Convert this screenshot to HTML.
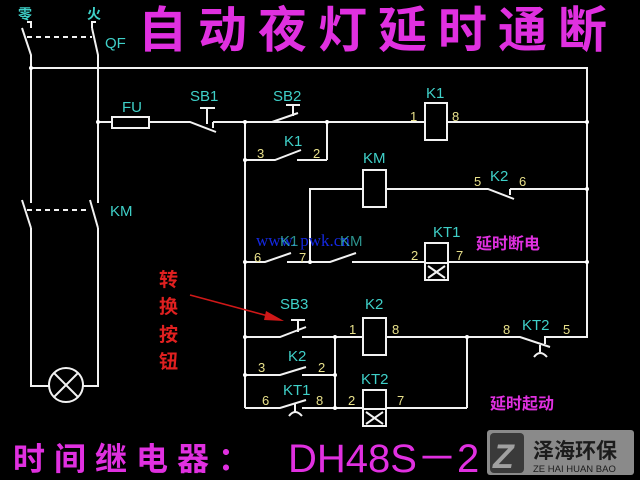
<!DOCTYPE html>
<html><head><meta charset="utf-8"><style>
html,body{margin:0;padding:0;background:#000;}
svg{display:block;}
.w{stroke:#f2f2f2;stroke-width:2;fill:none;}
.t{fill:#3fd0c8;font-family:"Liberation Sans",sans-serif;font-size:15px;}
.y{fill:#e8e08a;font-family:"Liberation Sans",sans-serif;font-size:13px;}
.m{fill:#e030e0;font-family:"Liberation Sans","Noto Sans CJK SC",sans-serif;font-weight:bold;}
</style></head><body>
<svg width="640" height="480" viewBox="0 0 640 480" xmlns="http://www.w3.org/2000/svg">
<rect width="640" height="480" fill="#000"/>
<text x="138" y="47" class="m" font-size="49" letter-spacing="11">自动夜灯延时通断</text>
<text x="18" y="19" fill="#3fd0c8" font-family="Noto Sans CJK SC,sans-serif" font-size="14" font-weight="bold">零</text>
<text x="87" y="19" fill="#3fd0c8" font-family="Noto Sans CJK SC,sans-serif" font-size="14" font-weight="bold">火</text>
<text x="105" y="48" class="t">QF</text>
<g class="w">
<path d="M27 22 H31 V28 M22 28 L31 55 V203 M31 228 V386 H49"/>
<path d="M96 22 H92 V28 M92 28 L98 55 V203 M98 228 V386 H83"/>
<path d="M27 37 H92" stroke-dasharray="5,4"/>
<path d="M31 68 H587 V337 H545 V344"/>
<path d="M22 200 L31 228" />
<path d="M90 200 L98 228" />
<path d="M27 210 H90" stroke-dasharray="5,4"/>
<circle cx="66" cy="385" r="17"/>
<path d="M54 373 L78 397 M78 373 L54 397"/>
<path d="M98 122 H112 M149 122 H190 L216 132 M213 122 V128 M213 122 H327 V160"/>
<rect x="112" y="117" width="37" height="11"/>
<path d="M200 108 H215 M207 108 V124" />
<path d="M245 122 V408"/>
<path d="M272 122 L298 113"/>
<path d="M286 105 H300 M293 105 V116"/>
<path d="M245 160 H275 L301 150 M297 160 H327"/>
<path d="M327 122 H425 M447 122 H587"/>
<rect x="425" y="103" width="22" height="37"/>
<path d="M310 262 V189 H363 M386 189 H488 L514 199 M510 189 V195 M510 189 H587"/>
<rect x="363" y="170" width="23" height="37"/>
<path d="M245 262 H265 L291 253 M287 262 H330 L356 253 M352 262 H425 M448 262 H587"/>
<rect x="425" y="243" width="23" height="37"/>
<path d="M425 263 H448 M428 266 L445 278 M445 266 L428 278"/>
<path d="M245 337 H280 L306 327 M302 337 H363 M386 337 H520 L550 347"/>
<path d="M291 320 H305 M298 320 V332"/>
<rect x="363" y="318" width="23" height="37"/>
<path d="M540 345 V352 M534 357 Q540 349 547 357"/>
<path d="M245 375 H280 L306 367 M302 375 H335"/>
<path d="M335 337 V408 M467 337 V408"/>
<path d="M245 408 H280 L306 400 M302 408 H363 M386 408 H467"/>
<path d="M295 404 V412 M289 416 Q295 408 302 416"/>
<rect x="363" y="390" width="23" height="36"/>
<path d="M363 409 H386 M366 412 L383 424 M383 412 L366 424"/>
</g>
<g fill="#fff">
<circle cx="31" cy="68" r="2"/><circle cx="98" cy="122" r="2"/><circle cx="245" cy="122" r="2"/>
<circle cx="245" cy="160" r="2"/><circle cx="327" cy="122" r="2"/><circle cx="587" cy="122" r="2"/>
<circle cx="587" cy="189" r="2"/><circle cx="587" cy="262" r="2"/><circle cx="245" cy="262" r="2"/>
<circle cx="310" cy="262" r="2"/><circle cx="245" cy="337" r="2"/><circle cx="245" cy="375" r="2"/>
<circle cx="335" cy="337" r="2"/><circle cx="335" cy="375" r="2"/><circle cx="335" cy="408" r="2"/>
<circle cx="467" cy="337" r="2"/>
</g>
<text x="122" y="112" class="t">FU</text>
<text x="190" y="101" class="t">SB1</text>
<text x="273" y="101" class="t">SB2</text>
<text x="284" y="146" class="t">K1</text>
<text x="257" y="158" class="y">3</text><text x="313" y="158" class="y">2</text>
<text x="426" y="98" class="t">K1</text>
<text x="410" y="121" class="y">1</text><text x="452" y="121" class="y">8</text>
<text x="110" y="216" class="t">KM</text>
<text x="363" y="163" class="t">KM</text>
<text x="474" y="186" class="y">5</text><text x="490" y="181" class="t">K2</text><text x="519" y="186" class="y">6</text>
<text x="433" y="237" class="t">KT1</text>
<text x="256" y="246" fill="#1428e0" font-family="Liberation Serif,serif" font-size="17">www. pwk.cn</text>
<text x="280" y="246" class="t" opacity="0.7">K1</text>
<text x="340" y="246" class="t" opacity="0.7">KM</text>
<text x="254" y="262" class="y">6</text><text x="299" y="262" class="y">7</text>
<text x="411" y="260" class="y">2</text><text x="456" y="260" class="y">7</text>
<text x="476" y="249" class="m" font-size="16">延时断电</text>
<text x="159" y="286" fill="#e02020" font-family="Noto Sans CJK SC,sans-serif" font-size="19" font-weight="bold">转</text>
<text x="159" y="313" fill="#e02020" font-family="Noto Sans CJK SC,sans-serif" font-size="19" font-weight="bold">换</text>
<text x="159" y="341" fill="#e02020" font-family="Noto Sans CJK SC,sans-serif" font-size="19" font-weight="bold">按</text>
<text x="159" y="368" fill="#e02020" font-family="Noto Sans CJK SC,sans-serif" font-size="19" font-weight="bold">钮</text>
<path d="M190 295 L272 317" stroke="#d01818" stroke-width="1.5"/>
<polygon points="284,321 266,311 264,320" fill="#d01818"/>
<text x="280" y="309" class="t">SB3</text>
<text x="365" y="309" class="t">K2</text>
<text x="349" y="334" class="y">1</text><text x="392" y="334" class="y">8</text>
<text x="503" y="334" class="y">8</text><text x="522" y="330" class="t">KT2</text><text x="563" y="334" class="y">5</text>
<text x="288" y="361" class="t">K2</text>
<text x="258" y="372" class="y">3</text><text x="318" y="372" class="y">2</text>
<text x="283" y="395" class="t">KT1</text>
<text x="262" y="405" class="y">6</text><text x="316" y="405" class="y">8</text>
<text x="361" y="384" class="t">KT2</text>
<text x="348" y="405" class="y">2</text><text x="397" y="405" class="y">7</text>
<text x="490" y="409" class="m" font-size="16">延时起动</text>
<text x="13" y="470" class="m" font-size="32" letter-spacing="9">时间继电器：</text>
<text x="288" y="472" fill="#e030e0" font-family="Liberation Sans,sans-serif" font-size="40">DH48S－2</text>
<rect x="487" y="430" width="147" height="45" rx="3" fill="#8a8a8a"/>
<rect x="490" y="433" width="34" height="40" rx="4" fill="#3a3a3a"/>
<text x="493" y="468" fill="#a0a0a0" font-family="Liberation Sans,sans-serif" font-size="34" font-weight="bold" font-style="italic">Z</text>
<text x="533" y="458" fill="#1c1c1c" font-family="Noto Sans CJK SC,sans-serif" font-size="21" font-weight="bold">泽海环保</text>
<text x="533" y="472" fill="#1c1c1c" font-family="Liberation Sans,sans-serif" font-size="9.5">ZE HAI HUAN BAO</text>
</svg>
</body></html>
